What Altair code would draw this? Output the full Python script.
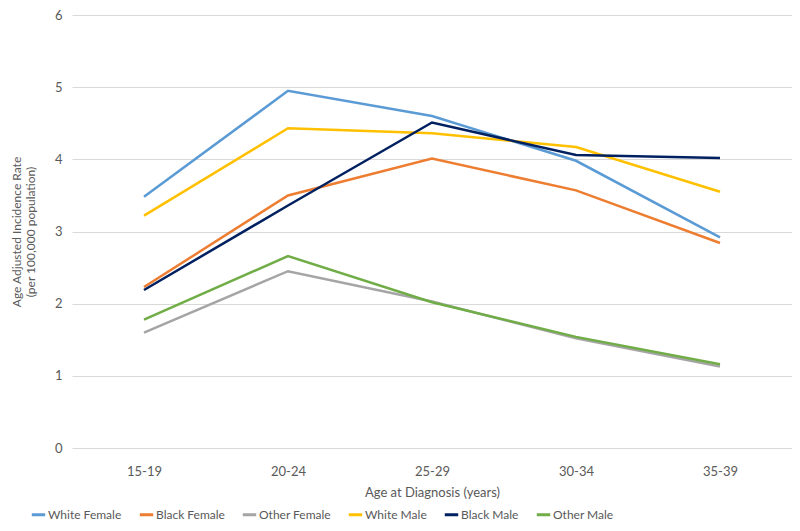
import altair as alt
import pandas as pd

ages = ["15-19", "20-24", "25-29", "30-34", "35-39"]
series = ["White Female", "Black Female", "Other Female", "White Male", "Black Male", "Other Male"]
colors = ["#5B9BD5", "#ED7D31", "#A5A5A5", "#FFC000", "#002060", "#70AD47"]

white_female = [3.48, 4.95, 4.60, 3.98, 2.92]
black_female = [2.23, 3.50, 4.01, 3.57, 2.84]
other_female = [1.60, 2.45, 2.03, 1.52, 1.13]
white_male = [3.22, 4.43, 4.36, 4.17, 3.55]
black_male = [2.19, 3.36, 4.51, 4.06, 4.02]
other_male = [1.78, 2.66, 2.02, 1.54, 1.16]

values = [white_female, black_female, other_female, white_male, black_male, other_male]
rows = []
for name, vals in zip(series, values):
    for a, v in zip(ages, vals):
        rows.append({"age": a, "series": name, "rate": v})
df = pd.DataFrame(rows)

FONT = "Lato"
GREY = "#595959"

chart = alt.Chart(df).mark_line(strokeWidth=2.5).encode(
    x=alt.X("age:N", sort=ages,
            scale=alt.Scale(type="point", padding=0.5),
            axis=alt.Axis(title="Age at Diagnosis (years)", labelAngle=0, ticks=False,
                          domain=False, grid=False, labelPadding=17, titlePadding=8,
                          labelFontSize=13, titleFontSize=13, labelColor=GREY,
                          titleColor=GREY, titleFontWeight="normal",
                          labelFont=FONT, titleFont=FONT)),
    y=alt.Y("rate:Q", scale=alt.Scale(domain=[0, 6], nice=False),
            axis=alt.Axis(title=["Age Adjusted Incidence Rate", "(per 100,000 population)"],
                          values=[0, 1, 2, 3, 4, 5, 6], ticks=False, domain=False,
                          gridColor="#D9D9D9", gridWidth=1, labelPadding=10,
                          labelFontSize=13, titleFontSize=12, labelColor=GREY,
                          titleColor=GREY, titleFontWeight="normal", titlePadding=17,
                          labelFont=FONT, titleFont=FONT)),
    color=alt.Color("series:N", sort=series,
                    scale=alt.Scale(domain=series, range=colors),
                    legend=alt.Legend(title=None, orient="none", direction="horizontal",
                                      legendX=-42, legendY=491, symbolType="stroke",
                                      symbolStrokeWidth=3, symbolSize=180,
                                      labelFontSize=12, labelColor=GREY, labelFont=FONT,
                                      columnPadding=11, labelOffset=1, columns=6)),
).properties(
    width=720, height=433,
    autosize=alt.AutoSizeParams(type="none"),
    padding={"left": 64, "top": 7, "right": 0, "bottom": 75},
).configure_view(stroke=None)

chart.save("out.html", embed_options={"renderer": "svg", "actions": False})
